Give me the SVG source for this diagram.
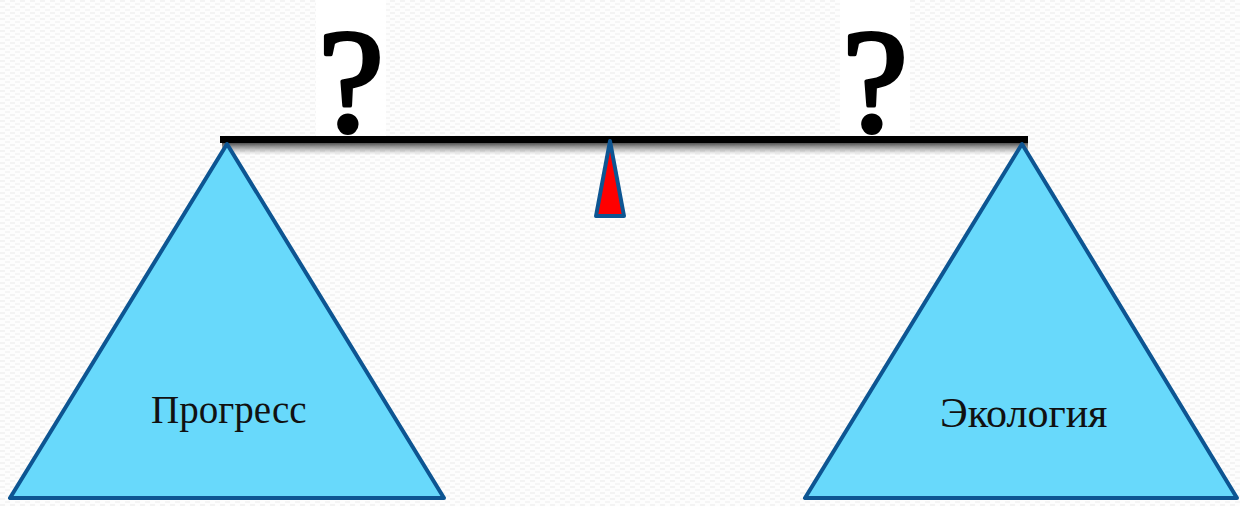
<svg xmlns="http://www.w3.org/2000/svg" width="1240" height="506" viewBox="0 0 1240 506">
<defs>
<pattern id="bgp" width="10" height="6" patternUnits="userSpaceOnUse">
<rect width="10" height="6" fill="#FDFDFD"/>
<rect x="0" y="0" width="5" height="2" fill="#F3F3F3"/>
<rect x="5" y="3" width="5" height="2" fill="#F5F5F5"/>
</pattern>
<linearGradient id="shadow" x1="0" y1="0" x2="0" y2="1">
<stop offset="0" stop-color="#333" stop-opacity="0.85"/>
<stop offset="1" stop-color="#888" stop-opacity="0"/>
</linearGradient>
<style>
.tri{fill:#68D9FB;stroke:#0D5592;stroke-width:4;stroke-linejoin:round}
.lbl{font-family:"Liberation Serif","Times New Roman",serif;fill:#111}
.q{font-family:"Liberation Serif","Times New Roman",serif;font-size:148px;fill:#000;text-anchor:middle;stroke:#000;stroke-width:4;stroke-linejoin:round}
</style>
</defs>
<rect width="1240" height="506" fill="url(#bgp)"/>
<g id="question-left">
<rect x="316" y="0" width="70" height="136" fill="#FFFFFF"/>
<text class="q" x="351" y="131">?</text>
</g>
<g id="question-right">
<rect x="840" y="0" width="70" height="136" fill="#FFFFFF"/>
<text class="q" x="875" y="131">?</text>
</g>
<g id="connectors">
<rect x="222" y="143" width="806" height="12" fill="url(#shadow)"/>
<rect id="beam" x="220" y="136" width="808" height="7" fill="#000"/>
</g>
<g id="progress">
<polygon class="tri" points="227,144 10,498 444,498"/>
<text class="lbl" x="151" y="423" font-size="39">Прогресс</text>
</g>
<g id="ecology">
<polygon class="tri" points="1022,144 805,498 1237,498"/>
<text class="lbl" x="940" y="427" font-size="42">Экология</text>
</g>
<g id="fulcrum">
<polygon points="610,141 596,216 624,216" fill="#FF0000" stroke="#0D5592" stroke-width="4" stroke-linejoin="round"/>
</g>
</svg>
